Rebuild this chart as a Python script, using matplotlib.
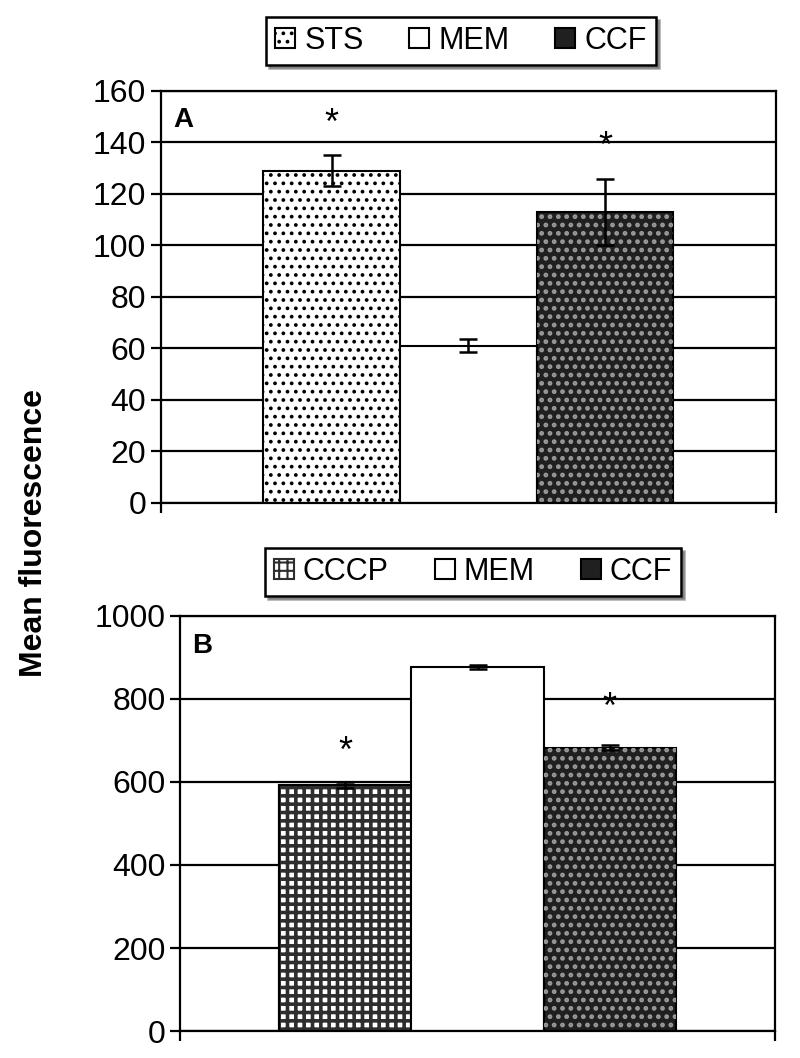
import matplotlib.pyplot as plt
import numpy as np

plt.rcParams['font.family'] = ['Liberation Sans', 'DejaVu Sans']
plt.rcParams['hatch.linewidth'] = 1.5

# Panel A
labels_a = ['STS', 'MEM', 'CCF']
means_a = [129, 61, 113]
err_a = [6, 2.5, 13]
stars_a = [147, None, 138]

# Panel B
labels_b = ['CCCP', 'MEM', 'CCF']
means_b = [592, 877, 683]
err_b = [7, 4, 5]
stars_b = [672, None, 777]

fig = plt.figure(figsize=(8, 10.58), dpi=100)
ax_a = fig.add_axes([0.201, 0.5246, 0.769, 0.3894])
ax_b = fig.add_axes([0.225, 0.0255, 0.744, 0.3923])

x = np.arange(3) - 1


def hatched_bar(ax, xi, h, hlw, **kw):
    with plt.rc_context({'hatch.linewidth': hlw}):
        b = ax.bar(xi, h, width=1, **kw)
    for p in b:
        if hasattr(p, 'set_hatch_linewidth'):
            p.set_hatch_linewidth(hlw)
    return b


def draw_panel(ax, labels, means, errs, stars, first_style, ymax, step, letter, legend_xy):
    ax.set_axisbelow(True)
    ax.yaxis.grid(True, color='black', linewidth=1.6)
    ax.set_xlim(-2.25, 2.25)
    ax.set_ylim(0, ymax)
    ax.set_yticks(np.arange(0, ymax + 1, step))

    if first_style == 'dots':
        hatched_bar(ax, x[0], means[0], 1.5, facecolor='white', edgecolor='black',
                    linewidth=1.5, hatch='..', label=labels[0])
    else:
        hatched_bar(ax, x[0], means[0], 2.6, facecolor='white', edgecolor='#2e2e2e',
                    linewidth=1.5, hatch='++', label=labels[0])
        ax.bar(x[0], means[0], width=1, facecolor='none', edgecolor='black', linewidth=1.5)
    ax.bar(x[1], means[1], width=1, facecolor='white', edgecolor='black',
           linewidth=1.5, label=labels[1])
    ax.bar(x[2], means[2], width=1, facecolor='#202020', edgecolor='black',
           linewidth=1.5, label=labels[2])
    hatched_bar(ax, x[2], means[2], 2.2, facecolor='none', edgecolor='#9a9a9a',
                linewidth=0, hatch='..')

    ax.errorbar(x, means, yerr=errs, fmt='none', ecolor='black', elinewidth=1.8,
                capsize=6.5, capthick=1.8, zorder=5)

    for xi, s in zip(x, stars):
        if s is not None:
            ax.text(xi, s, '*', ha='center', va='center', fontsize=26)

    ax.text(0.02, 0.96, letter, transform=ax.transAxes, ha='left', va='top',
            fontsize=20, fontweight='bold')

    for sp in ax.spines.values():
        sp.set_linewidth(1.6)
    ax.set_xticks([-2.25, 2.25])
    ax.set_xticklabels([])
    ax.tick_params(axis='both', direction='out', length=7, width=1.6, labelsize=23)

    leg = ax.legend(loc='center', bbox_to_anchor=legend_xy, bbox_transform=fig.transFigure,
                    ncol=3, fontsize=22, frameon=True, fancybox=False, shadow=True,
                    handlelength=0.65, handleheight=0.65, handletextpad=0.3,
                    columnspacing=1.5, borderpad=0.3)
    leg.get_frame().set_edgecolor('black')
    leg.get_frame().set_linewidth(1.8)


draw_panel(ax_a, labels_a, means_a, err_a, stars_a, 'dots', 160, 20, 'A',
           (461 / 800, 1 - 41 / 1058))
draw_panel(ax_b, labels_b, means_b, err_b, stars_b, 'grid', 1000, 200, 'B',
           (473 / 800, 1 - 572 / 1058))

fig.text(0.042, 1 - 533 / 1058, 'Mean fluorescence', rotation=90, ha='center', va='center',
         fontsize=23, fontweight='bold')

fig.savefig('out.png', dpi=100)
